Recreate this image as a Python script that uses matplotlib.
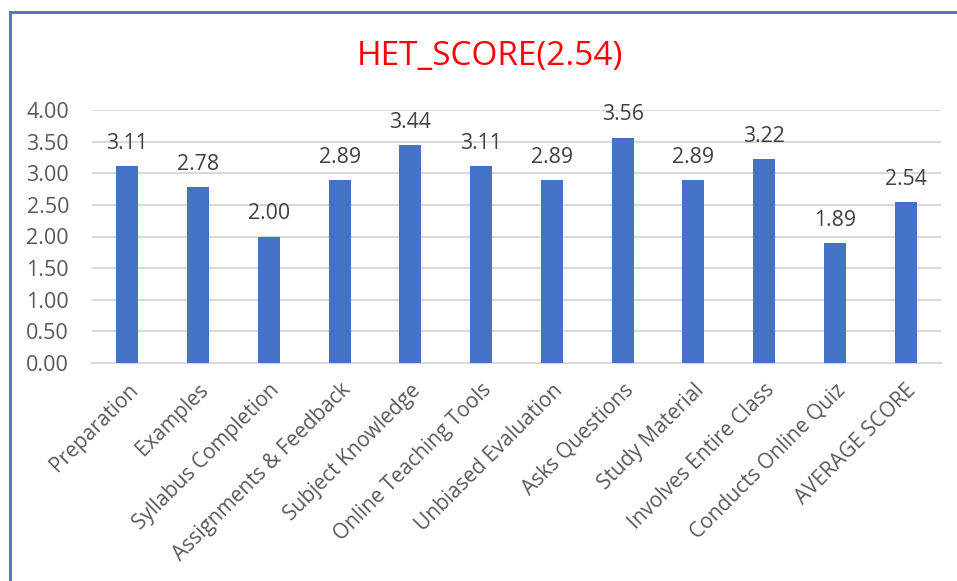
import matplotlib
matplotlib.use("Agg")
import matplotlib.pyplot as plt
from matplotlib.lines import Line2D

categories = ["Preparation", "Examples", "Syllabus Completion", "Assignments & Feedback",
              "Subject Knowledge", "Online Teaching Tools", "Unbiased Evaluation",
              "Asks Questions", "Study Material", "Involves Entire Class",
              "Conducts Online Quiz", "AVERAGE SCORE"]
values = [3.11, 2.78, 2.00, 2.89, 3.44, 3.11, 2.89, 3.56, 2.89, 3.22, 1.89, 2.54]
yticks = [0.0, 0.5, 1.0, 1.5, 2.0, 2.5, 3.0, 3.5, 4.0]
title = "HET_SCORE(2.54)"

plt.rcParams['font.family'] = ['Open Sans', 'DejaVu Sans']

W, H = 957, 581
fig = plt.figure(figsize=(W/100, H/100), dpi=100)
ax = fig.add_axes([92/W, 1-363/H, (941-92)/W, (363-110)/H])

x = list(range(len(categories)))
ax.bar(x, values, width=0.31, color="#4472C4", zorder=3)
for xi, v in zip(x, values):
    ax.annotate(f"{v:.2f}", (xi, v), xytext=(0, 9), textcoords="offset points",
                ha="center", va="bottom", fontsize=15.3, color="#404040")

ax.set_ylim(0, 4.0)
ax.set_xlim(-0.5, len(categories) - 0.5)
ax.set_yticks(yticks)
ax.set_yticklabels([f"{t:.2f}" for t in yticks], fontsize=15.5, color="#595959")
ax.yaxis.grid(True, color="#D9D9D9", linewidth=1.5, zorder=0)
ax.set_xticks(x)
ax.set_xticklabels(categories, rotation=45, ha="right", rotation_mode="anchor",
                   fontsize=15, color="#595959")
ax.tick_params(axis="both", length=0)
ax.tick_params(axis="x", pad=12)
ax.tick_params(axis="y", pad=16.5)
for s in ["top", "right", "left"]:
    ax.spines[s].set_visible(False)
ax.spines["bottom"].set_color("#D9D9D9")
ax.spines["bottom"].set_linewidth(1.5)

fig.text(490/W, 1-57/H, title, ha="center", va="center", fontsize=24, color="#FF0000")

# chart frame (top and left edges visible)
fig.add_artist(Line2D([9.5/W, 9.5/W], [0, 1-12/H], transform=fig.transFigure,
                      color="#4472C4", linewidth=2))
fig.add_artist(Line2D([9.5/W, 1], [1-12/H, 1-12/H], transform=fig.transFigure,
                      color="#4472C4", linewidth=2))

fig.savefig("out.png", dpi=100)
